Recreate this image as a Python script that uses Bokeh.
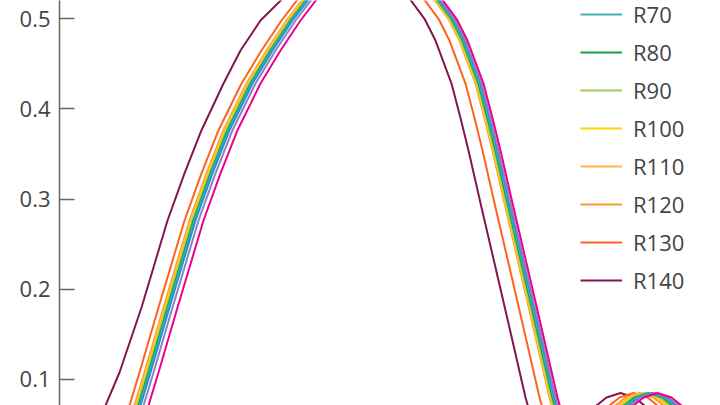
from bokeh.plotting import figure
from bokeh.models import Range1d, FixedTicker, Legend, LegendItem
from bokeh.embed import file_html
from bokeh.resources import INLINE

series_names = ["R40", "R50", "R60", "R70", "R80", "R90", "R100", "R110", "R120", "R130", "R140"]
series_colors = ["#ec008c", "#8e80c4", "#1e96d2", "#45b0b0", "#16a04b", "#9ccb5b",
                 "#ffd200", "#ffb648", "#ff9a2e", "#ff6220", "#801652"]
legend_names = ["R70", "R80", "R90", "R100", "R110", "R120", "R130", "R140"]

y_ticks = [0.1, 0.2, 0.3, 0.4, 0.5]

# response values shared by every series
y_profile = [0.020, 0.0711, 0.1077, 0.1798, 0.2242, 0.2763, 0.3286, 0.3764, 0.4282, 0.4648, 0.4981, 0.530, 0.555,
             0.565,
             0.555, 0.530, 0.500, 0.4759, 0.4282, 0.3900, 0.3539, 0.2907, 0.2242, 0.1621, 0.0800,
             0.045, 0.035, 0.050, 0.0711, 0.080, 0.085, 0.080, 0.0711, 0.050, 0.040]

x_R40 = [0.74, 0.89, 0.99, 1.18, 1.30, 1.44, 1.61, 1.78, 2.01, 2.21, 2.41, 2.63, 2.85,
         3.19,
         3.53, 3.77, 3.97, 4.08, 4.24, 4.33, 4.41, 4.54, 4.68, 4.81, 4.98,
         5.07, 5.33, 5.53, 5.74, 5.84, 5.98, 6.12, 6.22, 6.51, 6.71]
x_R50 = [0.69, 0.84, 0.94, 1.13, 1.25, 1.39, 1.56, 1.73, 1.96, 2.16, 2.36, 2.58, 2.80,
         3.15,
         3.51, 3.75, 3.95, 4.06, 4.22, 4.31, 4.39, 4.52, 4.66, 4.79, 4.96,
         5.05, 5.30, 5.50, 5.71, 5.81, 5.95, 6.09, 6.19, 6.48, 6.68]
x_R60 = [0.66, 0.81, 0.91, 1.10, 1.22, 1.36, 1.53, 1.70, 1.93, 2.13, 2.33, 2.55, 2.77,
         3.13,
         3.50, 3.74, 3.94, 4.05, 4.21, 4.30, 4.38, 4.51, 4.65, 4.78, 4.95,
         5.04, 5.28, 5.48, 5.69, 5.79, 5.93, 6.07, 6.17, 6.46, 6.66]
x_R70 = [0.65, 0.80, 0.90, 1.09, 1.21, 1.35, 1.52, 1.69, 1.92, 2.12, 2.32, 2.54, 2.76,
         3.12,
         3.49, 3.73, 3.93, 4.04, 4.20, 4.29, 4.37, 4.50, 4.64, 4.77, 4.94,
         5.03, 5.26, 5.46, 5.67, 5.77, 5.91, 6.05, 6.15, 6.44, 6.64]
x_R80 = [0.64, 0.79, 0.89, 1.08, 1.20, 1.34, 1.51, 1.68, 1.91, 2.11, 2.31, 2.53, 2.75,
         3.11,
         3.48, 3.72, 3.92, 4.03, 4.19, 4.28, 4.36, 4.49, 4.63, 4.76, 4.93,
         5.02, 5.24, 5.44, 5.65, 5.75, 5.89, 6.03, 6.13, 6.42, 6.62]
x_R90 = [0.63, 0.78, 0.88, 1.07, 1.19, 1.33, 1.50, 1.67, 1.90, 2.10, 2.30, 2.52, 2.74,
         3.10,
         3.47, 3.71, 3.91, 4.02, 4.18, 4.27, 4.35, 4.48, 4.62, 4.75, 4.92,
         5.01, 5.22, 5.42, 5.63, 5.73, 5.87, 6.01, 6.11, 6.40, 6.60]
x_R100 = [0.62, 0.77, 0.87, 1.06, 1.18, 1.32, 1.49, 1.66, 1.89, 2.09, 2.29, 2.51, 2.73,
          3.09,
          3.46, 3.70, 3.90, 4.01, 4.17, 4.26, 4.34, 4.47, 4.61, 4.74, 4.91,
          5.00, 5.20, 5.40, 5.61, 5.71, 5.85, 5.99, 6.09, 6.38, 6.58]
x_R110 = [0.61, 0.76, 0.86, 1.05, 1.17, 1.31, 1.48, 1.65, 1.88, 2.08, 2.28, 2.50, 2.72,
          3.09,
          3.46, 3.70, 3.90, 4.01, 4.17, 4.26, 4.34, 4.47, 4.61, 4.74, 4.91,
          5.00, 5.18, 5.38, 5.59, 5.69, 5.83, 5.97, 6.07, 6.36, 6.56]
x_R120 = [0.60, 0.75, 0.85, 1.04, 1.16, 1.30, 1.47, 1.64, 1.87, 2.07, 2.27, 2.49, 2.71,
          3.08,
          3.45, 3.69, 3.89, 4.00, 4.16, 4.25, 4.33, 4.46, 4.60, 4.73, 4.90,
          4.99, 5.15, 5.35, 5.56, 5.66, 5.80, 5.94, 6.04, 6.33, 6.53]
x_R130 = [0.55, 0.70, 0.80, 0.99, 1.11, 1.25, 1.42, 1.59, 1.82, 2.02, 2.22, 2.44, 2.66,
          3.00,
          3.35, 3.59, 3.79, 3.90, 4.06, 4.15, 4.23, 4.36, 4.50, 4.63, 4.80,
          4.89, 5.09, 5.29, 5.50, 5.60, 5.74, 5.88, 5.98, 6.27, 6.47]
x_R140 = [0.32, 0.46, 0.60, 0.82, 0.94, 1.08, 1.25, 1.42, 1.64, 1.81, 2.01, 2.30, 2.52,
          2.87,
          3.21, 3.45, 3.65, 3.76, 3.92, 4.01, 4.09, 4.22, 4.36, 4.49, 4.66,
          4.75, 4.96, 5.16, 5.37, 5.47, 5.61, 5.75, 5.85, 6.14, 6.34]

x_series = [x_R40, x_R50, x_R60, x_R70, x_R80, x_R90, x_R100, x_R110, x_R120, x_R130, x_R140]

p = figure(width=720, height=405, output_backend="svg", toolbar_location=None,
           x_range=Range1d(0, 6.61), y_range=Range1d(0.0711, 0.5203),
           x_axis_location=None,
           min_border_left=59, min_border_right=0, min_border_top=0, min_border_bottom=0)
p.outline_line_color = None
p.grid.visible = False
p.background_fill_color = "white"

renderers = {}
for name, color, xs in reversed(list(zip(series_names, series_colors, x_series))):
    renderers[name] = p.line(xs, y_profile, line_color=color, line_width=2)

yax = p.yaxis[0]
yax.ticker = FixedTicker(ticks=y_ticks)
yax.major_tick_in = 15
yax.major_tick_out = 0
yax.minor_tick_in = 0
yax.minor_tick_out = 0
yax.axis_line_color = "#666666"
yax.axis_line_width = 1.5
yax.major_tick_line_color = "#666666"
yax.major_tick_line_width = 1.5
yax.major_label_text_font = "Open Sans"
yax.major_label_text_font_size = "22px"
yax.major_label_text_color = "#444444"
yax.major_label_standoff = 9

items = [LegendItem(label=n, renderers=[renderers[n]]) for n in legend_names]
legend = Legend(items=items, location=(521, 106.5),
                label_text_font="Open Sans", label_text_font_size="22px",
                label_text_color="#444444",
                glyph_width=42, glyph_height=38, label_height=38, spacing=0,
                padding=0, margin=0, label_standoff=11,
                border_line_color=None, background_fill_alpha=0)
p.add_layout(legend)

open("out.html", "w").write(file_html(p, INLINE))
